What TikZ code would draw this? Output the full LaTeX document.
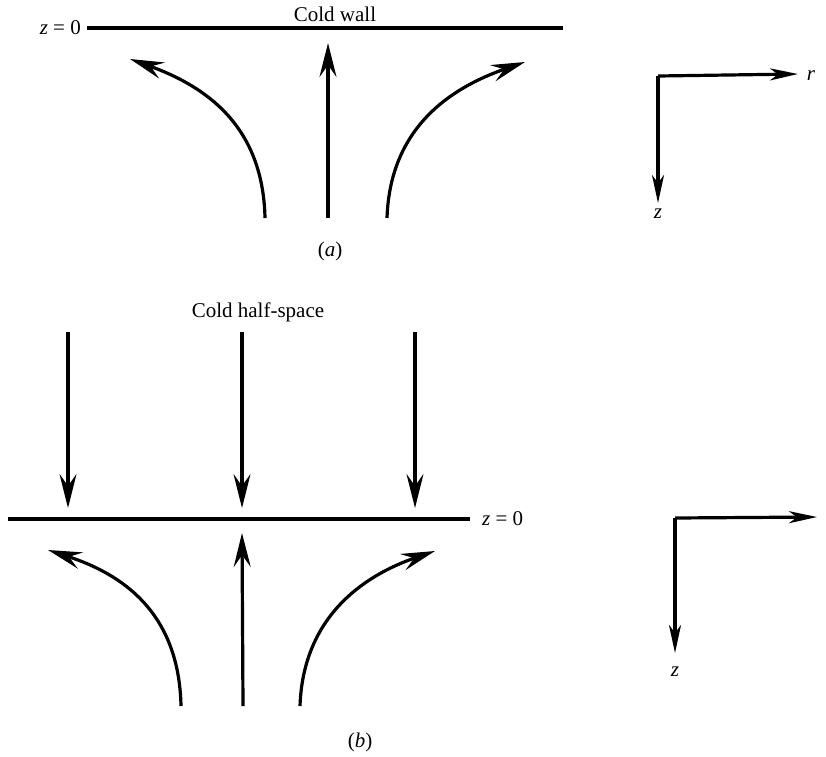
\documentclass[tikz,border=0pt]{standalone}
\usepackage{fontspec}
\setmainfont{Liberation Serif}
\usepackage{tikz}
\usetikzlibrary{arrows.meta}

\begin{document}
\begin{tikzpicture}[x=1pt,y=-1pt,font=\fontsize{21}{24}\selectfont,
	paroi/.style={line width=3.2pt},
	fleche/.style={line width=3.2pt,-{Stealth[length=34pt,width=17pt,inset=12pt]}},
	axe/.style={line width=3.2pt,-{Stealth[length=28pt,width=12pt,inset=8pt]}}]
	\useasboundingbox (0,0) rectangle (826,756);

	% (a) paroi froide
	\coordinate (pa1) at (87,28);
	\coordinate (pa2) at (563,28);
	\draw[paroi] (pa1) -- (pa2);
	\node[anchor=east,inner sep=0pt,xshift=-6pt] (za) at (pa1) {\textit{z} = 0};
	\node (froid) at (335,14) {Cold wall};

	\coordinate (ga0) at (265,218); \coordinate (ga1) at (130,59);
	\coordinate (ma0) at (328,218); \coordinate (ma1) at (328,43);
	\coordinate (da0) at (387,218); \coordinate (da1) at (525,62);
	\draw[fleche] (ga0) .. controls (263,125) and (205,86) .. (ga1);
	\draw[fleche] (ma0) -- (ma1);
	\draw[fleche] (da0) .. controls (390,128) and (450,88) .. (da1);
	\node (sa) at (330,251) {(\textit{a})};

	% reperes (a)
	\coordinate (oa) at (658,76);
	\coordinate (ra) at (798,74);
	\coordinate (zz) at (658,203);
	\draw[axe] (oa) -- (ra);
	\draw[axe] (oa) -- (zz);
	\node (lra) at (811,76) {\textit{r}};
	\node (lza) at (658,214) {\textit{z}};

	% (b) demi-espace froid
	\node (demi) at (258,312) {Cold half-space};
	\coordinate (pb1) at (8,519);
	\coordinate (pb2) at (470,519);
	\draw[paroi] (pb1) -- (pb2);
	\node[anchor=west,inner sep=0pt,xshift=12pt] (zb) at (pb2) {\textit{z} = 0};

	\foreach \x/\nom in {68/h1,242/h2,415/h3}{
		\coordinate (\nom0) at (\x,332);
		\coordinate (\nom1) at (\x,508);
		\draw[fleche] (\nom0) -- (\nom1);
	}

	\coordinate (gb0) at (181,706); \coordinate (gb1) at (48,550);
	\coordinate (mb0) at (243,706); \coordinate (mb1) at (242,533);
	\coordinate (db0) at (300,706); \coordinate (db1) at (435,551);
	\draw[fleche] (gb0) .. controls (179,612) and (122,574) .. (gb1);
	\draw[fleche] (mb0) -- (mb1);
	\draw[fleche] (db0) .. controls (303,618) and (362,576) .. (db1);
	\node (sb) at (360,742) {(\textit{b})};

	% reperes (b)
	\coordinate (ob) at (675,518);
	\coordinate (rb) at (817,517);
	\coordinate (zb2) at (675,653);
	\draw[axe] (ob) -- (rb);
	\draw[axe] (ob) -- (zb2);
	\node (lzb) at (675,672) {\textit{z}};
\end{tikzpicture}
\end{document}
